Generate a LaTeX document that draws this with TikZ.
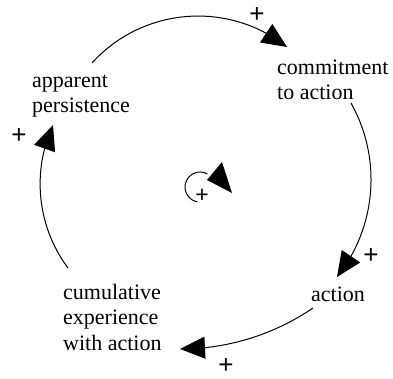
\documentclass[tikz,border=0pt]{standalone}
\usepackage{fontspec}
\setmainfont{Liberation Serif}
\newfontfamily\plusfont{Liberation Sans}
\usetikzlibrary{arrows.meta,bending}
\begin{document}
\begin{tikzpicture}[x=1pt,y=-1pt,
  lbl/.style={font=\fontsize{22}{25.5}\selectfont, align=left, anchor=base west, inner sep=0pt},
  pol/.style={font=\plusfont\fontsize{26}{26}\selectfont, inner sep=0pt},
  link/.style={line width=1pt, -{Triangle[length=25pt,width=22pt,flex]}}]
\useasboundingbox (0,0) rectangle (393,379);
% variables (anchored at the baseline of the last line)
\node[lbl] (ap) at (32,113) {apparent\\persistence};
\node[lbl] (cm) at (277,100) {commitment\\to action};
\node[lbl] (ac) at (311,301) {action};
\node[lbl] (cu) at (63,350) {cumulative\\experience\\with action};
% connector ends
\coordinate (ap-o) at (92,63);
\coordinate (cm-i) at (287,47);
\coordinate (cm-o) at (351,103);
\coordinate (ac-i) at (337,277);
\coordinate (ac-o) at (313,308);
\coordinate (cu-i) at (180,349);
\coordinate (cu-o) at (68,268);
\coordinate (ap-i) at (53,125);
% links
\draw[link] (ap-o) .. controls (142.6,7.2) and (228,0.2) .. (cm-i);
\draw[link] (cm-o) .. controls (382.1,158.5) and (376.6,227.2) .. (ac-i);
\draw[link] (ac-o) .. controls (273.8,334.7) and (227.5,349) .. (cu-i);
\draw[link] (cu-o) .. controls (37.2,226.7) and (31.5,171.8) .. (ap-i);
% polarities
\node[pol] (p1) at (257,15) {+};
\node[pol] (p2) at (371,256) {+};
\node[pol] (p3) at (226,366) {+};
\node[pol] (p4) at (19,136) {+};
% loop symbol
\draw[line width=1pt] (197.4,201.8) arc[start angle=100, end angle=300, radius=15];
\fill (207,180) -- (222,162) -- (232,193) -- cycle;
\node[pol, font=\plusfont\fontsize{23}{23}\selectfont] (lp) at (202,196) {+};
\end{tikzpicture}
\end{document}
